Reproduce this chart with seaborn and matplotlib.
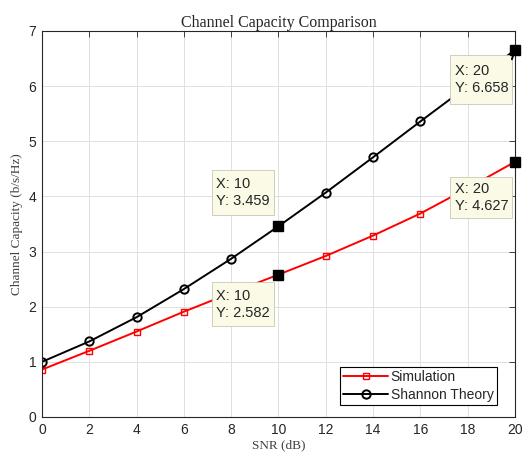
import matplotlib
matplotlib.use("Agg")
import matplotlib.pyplot as plt
from matplotlib.patches import Rectangle
import seaborn as sns
import pandas as pd

snr_db = [0, 2, 4, 6, 8, 10, 12, 14, 16, 18, 20]
simulation = [0.86, 1.20, 1.55, 1.91, 2.25, 2.582, 2.92, 3.29, 3.69, 4.15, 4.627]
shannon = [1.00, 1.37, 1.81, 2.32, 2.87, 3.459, 4.07, 4.71, 5.36, 6.00, 6.658]
tip_x = [10, 20]
x_ticks = [0, 2, 4, 6, 8, 10, 12, 14, 16, 18, 20]
y_ticks = [0, 1, 2, 3, 4, 5, 6, 7]

sns.set_style("white")
plt.rcParams['font.family'] = ['Liberation Sans', 'DejaVu Sans']
serif = ["Liberation Serif", "DejaVu Serif"]

df = pd.DataFrame({"snr": snr_db, "Simulation": simulation, "Shannon Theory": shannon})

fig = plt.figure(figsize=(5.29, 4.66), dpi=100)
ax = fig.add_axes([0.0794, 0.1052, 0.8941, 0.8283])

sns.lineplot(data=df, x="snr", y="Simulation", ax=ax, color="#ff0000", marker="s",
             markersize=5, markerfacecolor="none", markeredgecolor="#ff0000",
             markeredgewidth=1.0, linewidth=1.4, label="Simulation")
sns.lineplot(data=df, x="snr", y="Shannon Theory", ax=ax, color="black", marker="o",
             markersize=6, markerfacecolor="none", markeredgecolor="black",
             markeredgewidth=1.4, linewidth=1.4, label="Shannon Theory")

tips = df[df["snr"].isin(tip_x)]
ax.plot(tips["snr"], tips["Simulation"], "s", color="black", markersize=7, zorder=9, clip_on=False)
ax.plot(tips["snr"], tips["Shannon Theory"], "s", color="black", markersize=7, zorder=9, clip_on=False)

# datatip boxes: (dx of left edge, dy of top edge, height) relative to the tip point
offsets = {
    ("Shannon Theory", 10): (-2.83, 1.02, 0.81),
    ("Simulation", 10): (-2.83, -0.14, 0.80),
    ("Shannon Theory", 20): (-2.75, -0.09, 0.90),
    ("Simulation", 20): (-2.75, -0.27, 0.74),
}
box_w = 2.62
for _, r in tips.iterrows():
    for col in ["Shannon Theory", "Simulation"]:
        xv = int(r["snr"])
        yv = r[col]
        dx, dy, h = offsets[(col, xv)]
        left, top = xv + dx, yv + dy
        ax.add_patch(Rectangle((left, top - h), box_w, h, facecolor="#fafae6",
                               edgecolor="#c8c8b4", linewidth=0.6, zorder=7))
        ax.text(left + 0.2, top - h / 2, f"X: {xv}\nY: {yv:.3f}",
                fontsize=10.5, ha="left", va="center", zorder=8, color="#262626",
                linespacing=1.25)
        if xv == 20 and col == "Shannon Theory":
            ax.plot([left + box_w, xv], [top - 0.08, yv], color="black", lw=1.4, zorder=8,
                    clip_on=False)

ax.set_xlim(0, 20)
ax.set_ylim(0, 7)
ax.set_xticks(x_ticks)
ax.set_yticks(y_ticks)
ax.tick_params(direction="in", length=4, width=0.6, top=True, right=True,
               labelsize=10, colors="#262626", pad=4)
ax.grid(True, color="#e0e0e0", linewidth=0.7)
for s in ax.spines.values():
    s.set_color("#262626")
    s.set_linewidth(0.8)

ax.set_title("Channel Capacity Comparison", family=serif, fontsize=11.5, color="#262626", pad=3)
ax.set_xlabel("SNR (dB)", family=serif, fontsize=9.5, color="#404040", labelpad=2)
ax.set_ylabel("Channel Capacity (b/s/Hz)", family=serif, fontsize=9.5,
              color="#404040", labelpad=4)

leg = ax.legend(loc="lower right", bbox_to_anchor=(0.962, 0.031), fontsize=10, frameon=True,
                fancybox=False, edgecolor="black", framealpha=1, handlelength=3.2,
                borderpad=0.25, labelspacing=0.25, handletextpad=0.2, borderaxespad=0)
leg.get_frame().set_linewidth(0.8)
leg.set_zorder(10)

fig.savefig("out.png", dpi=100)
